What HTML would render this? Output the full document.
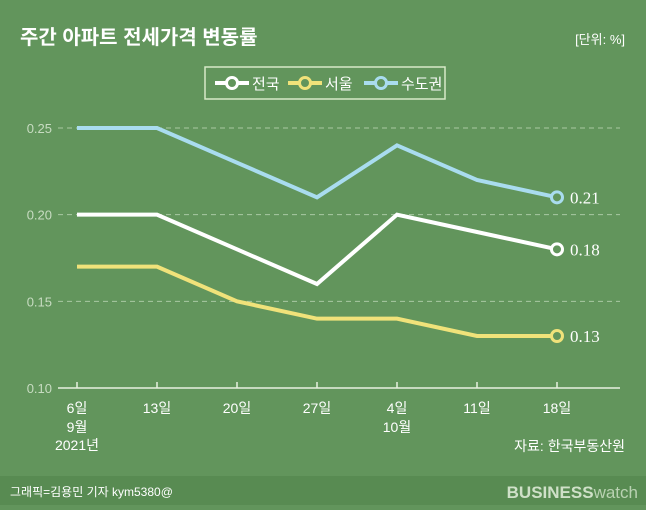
<!DOCTYPE html>
<html><head><meta charset="utf-8"><style>
body{margin:0;width:646px;height:505px;background:#62955c;overflow:hidden;font-family:"Liberation Sans","Noto Sans CJK KR",sans-serif}
</style></head><body>
<svg id="c" width="646" height="505" xmlns="http://www.w3.org/2000/svg">
<rect x="0" y="476" width="646" height="29" fill="#588b52"/>
<text x="20" y="44" fill="#fff" font-size="20" font-weight="bold">주간 아파트 전세가격 변동률</text>
<text x="625" y="44" fill="#fff" font-size="13" text-anchor="end">[단위: %]</text>
<g>
<rect x="205" y="67" width="240" height="32" fill="none" stroke="#d8eac8" stroke-width="1.5"/>
</g>
<text x="625" y="451" fill="#fff" font-size="14" text-anchor="end">자료: 한국부동산원</text>
<text x="10" y="496" fill="#fff" font-size="12">그래픽=김용민 기자 kym5380@</text>
<text x="638" y="498" fill="#cfe0c8" font-size="17" text-anchor="end"><tspan font-weight="bold">BUSINESS</tspan><tspan fill="#b9d2b2">watch</tspan></text>
</svg>
<script>
const categories=["6일","13일","20일","27일","4일","11일","18일"];
const national=[0.20,0.20,0.18,0.16,0.20,0.19,0.18];
const seoul=[0.17,0.17,0.15,0.14,0.14,0.13,0.13];
const capital=[0.25,0.25,0.23,0.21,0.24,0.22,0.21];
const yTicks=[0.10,0.15,0.20,0.25];
const seriesNames=["전국","서울","수도권"];
const svg=document.getElementById('c');const NS='http://www.w3.org/2000/svg';
const x=i=>77+i*80;const y=v=>388-(v-0.10)/0.15*260;
function mk(t,a,p){const e=document.createElementNS(NS,t);for(const k in a)e.setAttribute(k,a[k]);(p||svg).appendChild(e);return e;}
yTicks.forEach(t=>{
 if(t>0.1){const l=mk('line',{x1:58,x2:620,y1:y(t),y2:y(t),stroke:'#a9c9a2','stroke-dasharray':'5,4','stroke-width':1});
 
 }
 const tx=mk('text',{x:52,y:y(t)+5,fill:'#c8dcc2','font-size':13,'text-anchor':'end'});tx.textContent=t.toFixed(2);
 
 
});
const ax=mk('line',{x1:58,x2:620,y1:388,y2:388,stroke:'#e8f0e0','stroke-width':1.5});


categories.forEach((c,i)=>{
 const tk=mk('line',{x1:x(i),x2:x(i),y1:382,y2:388,stroke:'#e8f0e0','stroke-width':1.5});
 
 
 const t=mk('text',{x:x(i),y:413,fill:'#fff','font-size':14,'text-anchor':'middle'});t.textContent=c;
 
 
});
[[0,"9월",432],[0,"2021년",450],[4,"10월",432]].forEach(d=>{const t=mk('text',{x:x(d[0]),y:d[2],fill:'#fff','font-size':14,'text-anchor':'middle'});t.textContent=d[1];
 
 });
const colors=['#ffffff','#f0e27a','#a9dcef'];
[seoul,national,capital].forEach((s,k)=>{
 const ci=[1,0,2][k];const col=colors[ci];
 const p=mk('polyline',{points:s.map((v,i)=>x(i)+','+y(v)).join(' '),fill:'none',stroke:col,'stroke-width':4,'stroke-linejoin':'miter'});
 
 
 const n=s.length-1;
 const m=mk('circle',{cx:x(n),cy:y(s[n]),r:5.5,fill:'#62955c',stroke:col,'stroke-width':3});
 
 
 const lb=mk('text',{x:x(n)+13,y:y(s[n])+6,fill:'#fff','font-size':17,'font-family':'"Liberation Serif",serif'});lb.textContent=s[n].toFixed(2);
 
 
});
const lx=[215,288,364];
seriesNames.forEach((nm,i)=>{
 const g=mk('g',{});
 
 
 mk('line',{x1:lx[i],x2:lx[i]+34,y1:83,y2:83,stroke:colors[i],'stroke-width':4},g);
 mk('circle',{cx:lx[i]+17,cy:83,r:5.5,fill:'#62955c',stroke:colors[i],'stroke-width':3},g);
 const t=mk('text',{x:lx[i]+37,y:89,fill:'#fff','font-size':15},g);t.textContent=nm;
});
</script>
</body></html>
